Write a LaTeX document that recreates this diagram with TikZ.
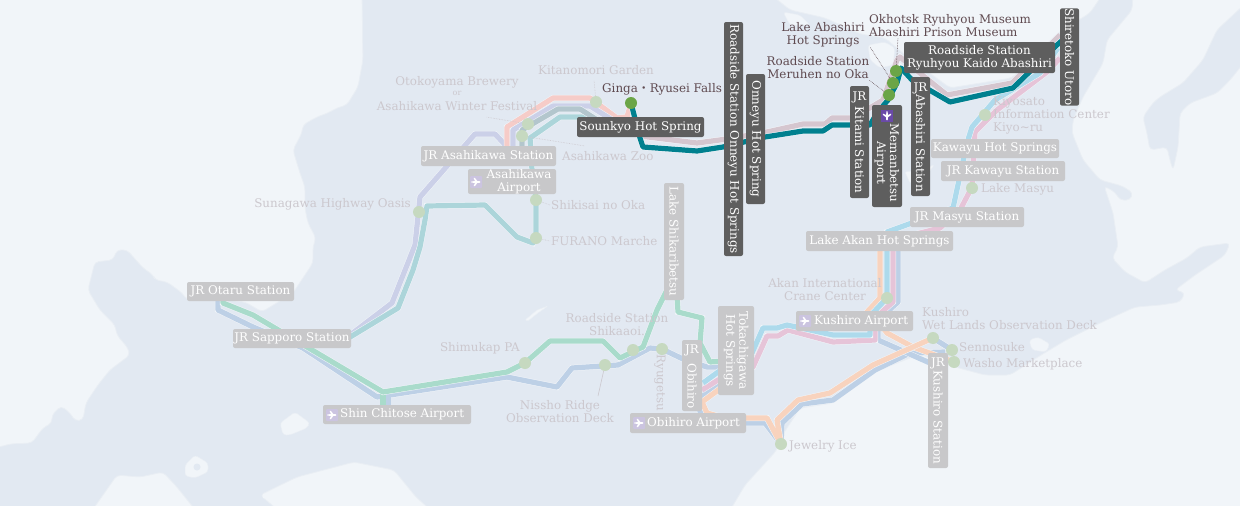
\documentclass[tikz,border=0pt]{standalone}
\usepackage{fontspec}
\setmainfont{DejaVu Serif}
\newfontfamily\cjkfont{Noto Sans CJK JP}
\definecolor{seac}{HTML}{F1F5F9}
\definecolor{landc}{HTML}{E2E9F2}
\definecolor{coastc}{HTML}{E9EEF4}
\definecolor{rSalmon}{HTML}{F6CCC8}
\definecolor{rLav}{HTML}{CBD0E8}
\definecolor{rGrey}{HTML}{B3C6CD}
\definecolor{rTeal}{HTML}{ACD5DA}
\definecolor{rMint}{HTML}{A9DBCB}
\definecolor{rBlue}{HTML}{BDD0E6}
\definecolor{rSky}{HTML}{ADDAEC}
\definecolor{rPink}{HTML}{E6C4D8}
\definecolor{rPeach}{HTML}{F8D3BE}
\definecolor{rMauve}{HTML}{D5C6CF}
\definecolor{rDark}{HTML}{00808F}
\definecolor{boxPale}{HTML}{C8C8CA}
\definecolor{boxDark}{HTML}{5E5E5E}
\definecolor{txtPale}{HTML}{CCC8CE}
\definecolor{txtDark}{HTML}{5F4A50}
\definecolor{dotPale}{HTML}{C6D9C0}
\definecolor{dotDark}{HTML}{6BA547}
\definecolor{icoPale}{HTML}{CBC4E0}
\definecolor{icoDark}{HTML}{6A4AA8}
\tikzset{
  land/.style={fill=landc,draw=coastc,line width=.8pt,line join=round,rounded corners=4pt},
  hole/.style={fill=seac,draw=coastc,line width=.5pt,line join=round,rounded corners=3pt},
  route/.style={draw=#1,line width=5.2pt,line join=round,preaction={draw=seac,line width=6.2pt}},
  sbox/.style={rounded corners=2pt,inner sep=0pt,align=center,font=\fontsize{11.9}{13}\selectfont},
  pbox/.style={sbox,fill=boxPale,text=white},
  dbox/.style={sbox,fill=boxDark,text=white},
  ptxt/.style={inner sep=0pt,text=txtPale,align=center,font=\fontsize{11.9}{13}\selectfont},
  dtxt/.style={inner sep=0pt,text=txtDark,align=center,font=\fontsize{11.9}{13}\selectfont},
  wtxt/.style={inner sep=0pt,text=white,align=center,font=\fontsize{11.9}{13}\selectfont},
  pdot/.style={circle,fill=dotPale,minimum size=12pt,inner sep=0pt},
  ddot/.style={circle,fill=dotDark,minimum size=12pt,inner sep=0pt},
  lead/.style={draw=#1,line width=.6pt,densely dotted},
  plane/.pic={
    \fill[white] (-4.6,-.7) -- (-1,-.8) -- (-2.4,-4.2) -- (-1.2,-4.2) -- (1.4,-.9) -- (3.6,-.8)
      .. controls (4.8,-.6) and (4.8,.6) .. (3.6,.8) -- (1.4,.9) -- (-1.2,4.2) -- (-2.4,4.2) -- (-1,.8) -- (-4.6,.7) -- cycle;
  }
}
\newcommand{\hbx}[7]{\node[#6,minimum width={#4-#2},minimum height={#5-#3}] (#1) at ({(#2+#4)/2},{(#3+#5)/2}) {#7};}
\newcommand{\vbx}[7]{\node[#6,rotate=-90,minimum width={#5-#3},minimum height={#4-#2}] (#1) at ({(#2+#4)/2},{(#3+#5)/2}) {#7};}
\begin{document}
\begin{tikzpicture}[x=1pt,y=-1pt]
\useasboundingbox (0,0) rectangle (1240,506);
\fill[seac] (0,0) rectangle (1240,506);
% land
\path[land] (0,447) -- (10,444) -- (32,443) -- (43,428) -- (52,423) -- (52,415) -- (61,406) -- (70,413) -- (75,421) -- (83,420) -- (86,403) -- (98,385) -- (110,370) -- (130,355) -- (128,348) -- (117,335) -- (115,325) -- (100,310) -- (88,290) -- (95,262) -- (113,260) -- (117,250) -- (127,250) -- (143,268) -- (153,275) -- (155,280) -- (167,282) -- (182,293) -- (187,300) -- (225,300) -- (245,302) -- (262,312) -- (293,293) -- (303,278) -- (313,263) -- (313,247) -- (316,238) -- (308,223) -- (305,208) -- (305,187) -- (300,173) -- (293,150) -- (302,133) -- (303,125) -- (317,117) -- (328,113) -- (337,108) -- (347,105) -- (358,87) -- (363,60) -- (362,-6)
 -- (770,-6) -- (790,10) -- (825,18) -- (860,34) -- (885,38) -- (905,55) -- (950,88) -- (1012,78) -- (1058,33) -- (1090,13) -- (1103,-6) -- (1133,-6) -- (1132,10) -- (1107,40) -- (1103,63) -- (1083,97) -- (1073,120) -- (1072,133) -- (1083,160) -- (1100,180) -- (1122,186) -- (1133,193) -- (1130,200) -- (1120,200) -- (1115,192) -- (1104,186) -- (1113,213) -- (1118,247) -- (1112,258) -- (1125,272) -- (1145,283) -- (1165,270) -- (1187,258) -- (1200,247) -- (1230,243) -- (1225,255) -- (1195,275) -- (1175,290) -- (1185,293) -- (1180,302) -- (1160,305) -- (1135,307) -- (1100,323) -- (1066,340) -- (1041,355) -- (1010,375) -- (985,375) -- (948,365) -- (920,354) -- (874,372) -- (833,403) -- (800,408) -- (783,434) -- (776,451) -- (745,485) -- (729,512)
 -- (433,512) -- (416,497) -- (394,470) -- (354,462) -- (297,477) -- (260,495) -- (280,512) -- (197,512) -- (177,487) -- (163,472) -- (140,477) -- (117,475) -- (91,512) -- (-6,512) -- (-6,447) -- cycle;
% Kunashiri
\path[land] (1143,117) -- (1153,103) -- (1160,97) -- (1183,83) -- (1203,60) -- (1217,30) -- (1246,3) -- (1246,60) -- (1230,80) -- (1217,93) -- (1190,103) -- (1180,113) -- (1178,147) -- (1173,170) -- (1170,160) -- (1167,147) -- (1150,150) -- (1147,133) -- cycle;
% lakes
\path[hole] (868,45) -- (885,42) -- (895,48) -- (893,65) -- (880,68) -- (870,60) -- cycle;
\path[hole] (783,12) -- (800,15) -- (810,25) -- (790,25) -- cycle;
\path[hole] (280,423) -- (295,412) -- (310,423) -- (307,428) -- (290,435) -- (283,435) -- cycle;
\path[hole] (185,465) -- (195,455) -- (208,463) -- (208,472) -- (195,478) -- (185,476) -- cycle;
\fill[landc] (197,467) circle (3.5pt);
\fill[seac] (265,496) circle (2.5pt);
\path[hole,rounded corners=1pt] (525,320) -- (537,310) -- (548,306) -- (538,313) -- (528,321) -- cycle;
\path[hole] (1029,340) -- (1038,337) -- (1050,344) -- (1046,352) -- (1032,350) -- cycle;
\path[hole,rounded corners=1pt] (905,172) -- (920,170) -- (934,165) -- (925,178) -- (910,183) -- cycle;
% stops
\coordinate (cGinga) at (631,103);
\coordinate (cFurano) at (536,238);
\coordinate (cShikisai) at (536,200);
\coordinate (cJewel) at (781,444);
\coordinate (cWet) at (933,338);
\coordinate (cWasho) at (954,362);
\coordinate (cSenno) at (952,350);
% routes
\draw[route=rBlue] (218,298) -- (218,310) -- (253,327) -- (303,348) -- (377,397) -- (507,377) -- (557,387) -- (572,368) -- (618,365) -- (650,348) -- (662,349) -- (685,360) -- (707,367) -- (725,367);
\draw[route=rBlue] (388,395) -- (388,412);
\draw[route=rMint] (383,392) -- (383,412);
\draw[route=rBlue] (725,378) -- (702,397) -- (700,412) -- (745,423) -- (765,423) -- (cJewel) -- (782,423) -- (802,404) -- (833,400) -- (875,370) -- (910,353) -- (945,352);
\draw[route=rBlue] (898,240) -- (898,302) -- (887,312) -- (878,318) -- (878,340) -- (930,363);
\draw[route=rBlue] (cWet) -- (cSenno);
\draw[route=rPeach] (880,240) -- (880,298) -- (867,312) -- (860,320);
\draw[route=rPeach] (877,320) -- (887,333) -- (913,347) -- (cWasho);
\draw[route=rPeach] (725,385) -- (702,402) -- (707,413) -- (725,418) -- (767,418) -- (cJewel) -- (777,420) -- (798,400) -- (830,393) -- (873,365) -- (913,347) -- (cWet);
\draw[route=rPink] (1060,58) -- (1047,72) -- (997,110) -- (975,132) -- (972,187) -- (960,210) -- (940,228) -- (893,240) -- (893,302) -- (875,318) -- (875,340) -- (833,342) -- (788,330) -- (778,336) -- (767,336) -- (753,367) -- (718,380) -- (702,390);
\draw[route=rSky] (1058,48) -- (1040,73) -- (995,100) -- (972,127) -- (967,143) -- (953,208) -- (887,232) -- (887,298) -- (870,316) -- (870,335) -- (833,335) -- (787,325) -- (777,328) -- (763,328) -- (752,353) -- (718,372) -- (703,383);
\draw[route=rLav] (337,345) -- (392,303) -- (415,245) -- (420,197) -- (475,134) -- (495,134) -- (510,150);
\draw[route=rTeal] (337,345) -- (398,308) -- (413,270) -- (420,247) -- (425,220) -- (427,206) -- (485,205) -- (517,237) -- (533,243) -- (cFurano) -- (cShikisai) -- (532,170) -- (530,138) -- (560,117) -- (583,117) -- (605,130);
\draw[route=rSalmon] (507,150) -- (507,127) -- (553,98) -- (590,98) -- (617,118) -- (627,117) -- (cGinga);
\draw[route=rLav] (513,148) -- (513,130) -- (553,106) -- (590,106) -- (625,128);
\draw[route=rGrey] (522,147) -- (522,130) -- (558,109) -- (580,109) -- (605,125);
\draw[route=rMint] (223,298) -- (223,303) -- (253,315) -- (383,392) -- (507,372) -- (525,363) -- (550,341) -- (603,341) -- (620,358) -- (643,347) -- (657,310) -- (667,290);
\draw[route=rMint] (677,295) -- (678,312) -- (702,318) -- (700,343) -- (710,362) -- (725,361);
\draw[route=rMauve] (640,136) -- (697,143) -- (727,139) -- (767,132) -- (803,124) -- (825,124) -- (832,118) -- (853,118) -- (883,100) -- (897,60) -- (900,57) -- (947,95) -- (1012,83) -- (1060,35);
\draw[route=rDark] (cGinga) -- (640,138) -- (643,147) -- (697,151) -- (723,147) -- (765,137) -- (803,131) -- (823,131) -- (832,125) -- (870,125) -- (877,113) -- (888,100) -- (897,83) -- (901,68) -- (912,80) -- (950,102) -- (1013,88) -- (1057,45) -- (1065,38);
% dots
\node[pdot] (dKita) at (596,102) {};
\node[pdot] (dWinter) at (528,124) {};
\node[pdot] (dZoo) at (522,136) {};
\node[pdot] (dShikisai) at (cShikisai) {};
\node[pdot] (dFurano) at (cFurano) {};
\node[pdot] (dSuna) at (419,212) {};
\node[pdot] (dShimu) at (525,363) {};
\node[pdot] (dShika) at (633,350) {};
\node[pdot] (dNissho) at (605,365) {};
\node[pdot] (dRyu) at (662,349) {};
\node[pdot] (dCrane) at (887,298) {};
\node[pdot] (dWet) at (cWet) {};
\node[pdot] (dSenno) at (cSenno) {};
\node[pdot] (dWasho) at (cWasho) {};
\node[pdot] (dJewel) at (cJewel) {};
\node[pdot] (dKiyo) at (985,115) {};
\node[pdot] (dMasyu) at (972,188) {};
\node[ddot] (dGinga) at (cGinga) {};
\node[ddot] (dOkh) at (896,71) {};
\node[ddot] (dLake) at (893,83) {};
\node[ddot] (dMeru) at (889,95) {};
% leaders
\coordinate (lKita) at (594,80);
\coordinate (lWinter) at (486,117);
\coordinate (lZoo) at (585,146);
\coordinate (lShik) at (550,205);
\coordinate (lFur) at (550,241);
\coordinate (lNis) at (598,396);
\coordinate (lOkh) at (898,38);
\coordinate (lLake) at (870,47);
\coordinate (lMeru) at (869,80);
\draw[lead=txtPale] (dKita) -- (lKita);
\draw[lead=txtPale] (dWinter) -- (lWinter);
\draw[lead=txtPale] (dZoo) -- (lZoo);
\draw[lead=txtPale] (dShikisai) -- (lShik);
\draw[lead=txtPale] (dFurano) -- (lFur);
\draw[draw=txtPale,line width=.6pt] (dNissho) -- (lNis);
\draw[lead=txtDark] (dOkh) -- (lOkh);
\draw[lead=txtDark] (dLake) -- (lLake);
\draw[lead=txtDark] (dMeru) -- (lMeru);
% pale text
\node[ptxt] (tKita) at (596,70) {Kitanomori Garden};
\node[ptxt] (tOto) at (457,82) {Otokoyama Brewery};
\node[ptxt,font=\fontsize{8}{9}\selectfont] (tOr) at (457,93) {or};
\node[ptxt] (tWin) at (457,106) {Asahikawa Winter Festival};
\node[ptxt,anchor=west] (tZoo) at (562,156) {Asahikawa Zoo};
\node[ptxt,anchor=west] (tShi) at (551,205) {Shikisai no Oka};
\node[ptxt,anchor=west] (tFur) at (551,241) {FURANO Marche};
\node[ptxt,anchor=east] (tSun) at (411,204) {Sunagawa Highway Oasis};
\node[ptxt,anchor=east] (tShm) at (520,348) {Shimukap PA};
\node[ptxt] (tRoadS) at (617,325) {Roadside Station\\Shikaaoi.};
\node[ptxt] (tNis) at (560,412) {Nissho Ridge\\Observation Deck};
\node[ptxt] (tAkan) at (825,290) {Akan International\\Crane Center};
\node[ptxt,align=left,anchor=west] (tWet) at (922,319) {Kushiro\\Wet Lands Observation Deck};
\node[ptxt,anchor=west] (tSen) at (959,347) {Sennosuke};
\node[ptxt,anchor=west] (tWas) at (963,364) {Washo Marketplace};
\node[ptxt,anchor=west] (tJew) at (789,446) {Jewelry Ice};
\node[ptxt,anchor=west] (tMas) at (981,189) {Lake Masyu};
\node[ptxt,align=left,anchor=west] (tKiy) at (993,115) {Kiyosato\\Information Center\\Kiyo\textasciitilde ru};
\node[ptxt,rotate=-90] (tRyu) at (660,383) {Ryugetsu};
% dark text
\node[dtxt,anchor=west] (tGin) at (602,89) {Ginga{\cjkfont ・}Ryusei Falls};
\node[dtxt,align=left,anchor=west] (tOkh) at (869,25.5) {Okhotsk Ryuhyou Museum\\Abashiri Prison Museum};
\node[dtxt] (tLak) at (823,34.5) {Lake Abashiri\\Hot Springs};
\node[dtxt] (tMer) at (818,67.5) {Roadside Station\\Meruhen no Oka};
% pale boxes
\hbx{bAsa}{421}{146}{556}{166}{pbox}{JR Asahikawa Station}
\hbx{bAap}{468}{169}{556}{194}{pbox}{}
\hbx{bOta}{187}{282}{294}{301}{pbox}{JR Otaru Station}
\hbx{bSap}{233}{329}{351}{348}{pbox}{JR Sapporo Station}
\hbx{bShin}{323}{405}{471}{424}{pbox}{}
\hbx{bObi}{630}{413}{746}{433}{pbox}{}
\hbx{bKus}{796}{311}{913}{331}{pbox}{}
\hbx{bAka}{806}{231}{953}{251}{pbox}{Lake Akan Hot Springs}
\hbx{bMas}{910}{207}{1024}{227}{pbox}{JR Masyu Station}
\hbx{bKaS}{941}{161}{1065}{181}{pbox}{JR Kawayu Station}
\hbx{bKaH}{931}{139}{1059}{158}{pbox}{Kawayu Hot Springs}
\vbx{bShk}{664}{183}{684}{300}{pbox}{Lake Shikaribetsu}
\vbx{bTok}{718}{306}{754}{395}{pbox}{Tokachigawa\\Hot Springs}
\vbx{bJOb}{682}{340}{702}{411}{pbox}{}
\vbx{bJKu}{928}{353}{948}{468}{pbox}{}
% pale airport contents
\fill[icoPale,rounded corners=1pt] (470,176) rectangle (482,188);
\pic at (476,182) {plane};
\node[wtxt] (tAap) at (519,181.5) {Asahikawa\\Airport};
\fill[icoPale,rounded corners=1pt] (326,409) rectangle (338,421);
\pic at (332,415) {plane};
\node[wtxt,anchor=west] (tShin) at (340,414.5) {Shin Chitose Airport};
\fill[icoPale,rounded corners=1pt] (633,417) rectangle (645,429);
\pic at (639,423) {plane};
\node[wtxt,anchor=west] (tObi) at (647,423) {Obihiro Airport};
\fill[icoPale,rounded corners=1pt] (799,315) rectangle (811,327);
\pic at (805,321) {plane};
\node[wtxt,anchor=west] (tKus) at (814,321) {Kushiro Airport};
\node[wtxt] (tJOa) at (692,350) {JR};
\node[wtxt,rotate=-90] (tJOb) at (692,386) {Obihiro};
\node[wtxt] (tJKa) at (938,363) {JR};
\node[wtxt,rotate=-90] (tJKb) at (938,417) {Kushiro Station};
% dark boxes
\hbx{bSou}{577}{117}{704}{137}{dbox}{Sounkyo Hot Spring}
\hbx{bRoa}{904}{42}{1055}{73}{dbox}{Roadside Station\\Ryuhyou Kaido Abashiri}
\vbx{bOnR}{724}{22}{743}{256}{dbox}{Roadside Station Onneyu Hot Springs}
\vbx{bOnn}{746}{74}{765}{204}{dbox}{Onneyu Hot Spring}
\vbx{bKit}{850}{86}{869}{198}{dbox}{}
\vbx{bMem}{872}{105}{902}{207}{dbox}{}
\vbx{bAba}{911}{77}{930}{196}{dbox}{}
\vbx{bShr}{1060}{9}{1079}{105}{dbox}{Shiretoko Utoro}
\node[wtxt] (tKa) at (859.5,97) {JR};
\node[wtxt,rotate=-90] (tKb) at (859.5,150) {Kitami Station};
\node[wtxt] (tAa) at (920.5,88) {JR};
\node[wtxt,rotate=-90] (tAb) at (920.5,143) {Abashiri Station};
\fill[icoDark] (881,110) rectangle (893,122);
\pic[rotate=-90] at (887,116) {plane};
\node[wtxt,rotate=-90] (tMem) at (887,163) {Memanbetsu\\Airport};
\end{tikzpicture}
\end{document}
